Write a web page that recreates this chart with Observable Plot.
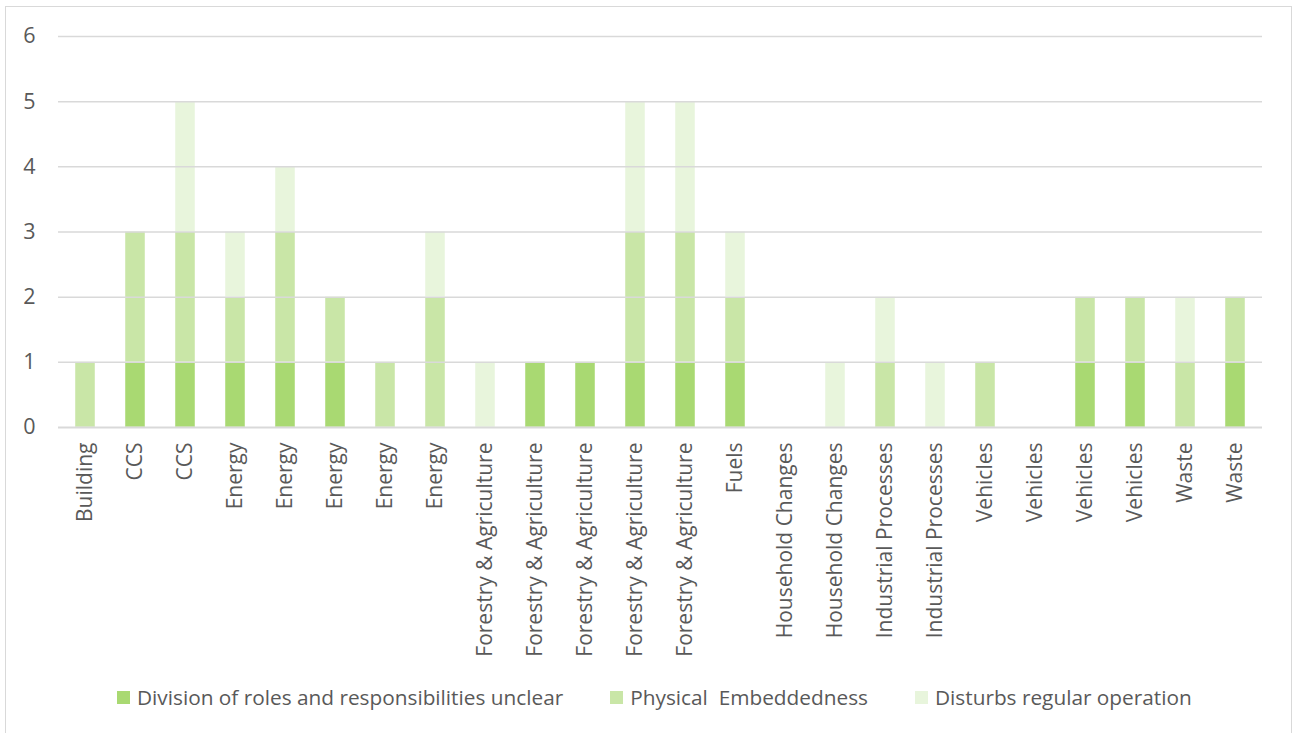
<!DOCTYPE html>
<html>
<head>
<meta charset="utf-8">
<script src="https://cdn.jsdelivr.net/npm/d3@7"></script>
<script src="https://cdn.jsdelivr.net/npm/@observablehq/plot@0.6"></script>
<style>
  html, body { margin: 0; padding: 0; background: #ffffff; }
  body { width: 1292px; height: 733px; position: relative; overflow: hidden; font-family: "Open Sans", sans-serif; }
  #frame { position: absolute; left: 5px; top: 6px; width: 1287px; height: 800px; border: 1.5px solid #d9d9d9; box-sizing: border-box; }
  #chart { position: absolute; left: 0; top: 0; }
  #legend { position: absolute; left: 117px; top: 682px; display: flex; gap: 47px; font-size: 20.8px; color: #595959; line-height: 30px; }
  #legend .item { display: flex; align-items: center; white-space: pre; }
  #legend .sw { width: 13px; height: 13px; margin-right: 7px; display: inline-block; }
</style>
</head>
<body>
<div id="frame"></div>
<div id="chart"></div>
<div id="legend"></div>
<script>
// Sector of each measure (one bar per measure, sectors repeat)
const categories = [
  "Building", "CCS", "CCS", "Energy", "Energy", "Energy", "Energy", "Energy",
  "Forestry & Agriculture", "Forestry & Agriculture", "Forestry & Agriculture",
  "Forestry & Agriculture", "Forestry & Agriculture", "Fuels",
  "Household Changes", "Household Changes", "Industrial Processes", "Industrial Processes",
  "Vehicles", "Vehicles", "Vehicles", "Vehicles", "Waste", "Waste"
];

// Counts per barrier type, stacked bottom to top in this order
const seriesNames = [
  "Division of roles and responsibilities unclear",
  "Physical  Embeddedness",
  "Disturbs regular operation"
];
const division = [0, 1, 1, 1, 1, 1, 0, 0, 0, 1, 1, 1, 1, 1, 0, 0, 0, 0, 0, 0, 1, 1, 0, 1];
const physical = [1, 2, 2, 1, 2, 1, 1, 2, 0, 0, 0, 2, 2, 1, 0, 0, 1, 0, 1, 0, 1, 1, 1, 1];
const disturbs = [0, 0, 2, 1, 1, 0, 0, 1, 1, 0, 0, 2, 2, 1, 0, 1, 1, 1, 0, 0, 0, 0, 1, 0];
const seriesColors = ["#a9d972", "#c9e6a7", "#e8f5dc"];
const yTicks = [0, 1, 2, 3, 4, 5, 6];

// Long-format table for the stacked bars
const seriesValues = [division, physical, disturbs];
const rows = [];
seriesValues.forEach((vals, s) => {
  vals.forEach((v, i) => rows.push({ i, series: seriesNames[s], value: v }));
});

const chart = Plot.plot({
  width: 1292,
  height: 667,
  marginLeft: 58,
  marginRight: 30,
  marginTop: 36,
  marginBottom: 240,
  style: { fontFamily: "Open Sans", fontSize: "21px", color: "#595959", background: "transparent" },
  x: { domain: d3.range(categories.length), paddingInner: 0.6, paddingOuter: 0.3, label: null, axis: null },
  y: { domain: [0, 6], label: null, axis: null },
  color: { domain: seriesNames, range: seriesColors },
  marks: [
    Plot.barY(rows, { x: "i", y: "value", fill: "series", order: seriesNames, stroke: "white", strokeWidth: 1, strokeOpacity: 0.45 }),
    Plot.gridY(yTicks.slice(1), { stroke: "#d9d9d9", strokeOpacity: 1, strokeWidth: 1.5 }),
    Plot.ruleY([0], { stroke: "#d9d9d9", strokeWidth: 2 }),
    Plot.axisY(yTicks, { tickSize: 0, tickPadding: 23, label: null, tickFormat: d => String(d), fill: "#595959", fontSize: 21.5 }),
    Plot.axisX(d3.range(categories.length), { tickRotate: -90, tickSize: 0, tickPadding: 15, label: null, tickFormat: i => categories[i], fill: "#595959", fontSize: 21 })
  ]
});
document.getElementById("chart").appendChild(chart);

// Legend below the chart
const legend = document.getElementById("legend");
seriesNames.forEach((name, s) => {
  const item = document.createElement("div");
  item.className = "item";
  const sw = document.createElement("span");
  sw.className = "sw";
  sw.style.background = seriesColors[s];
  const label = document.createElement("span");
  label.textContent = name;
  item.appendChild(sw);
  item.appendChild(label);
  legend.appendChild(item);
});
</script>
</body>
</html>
